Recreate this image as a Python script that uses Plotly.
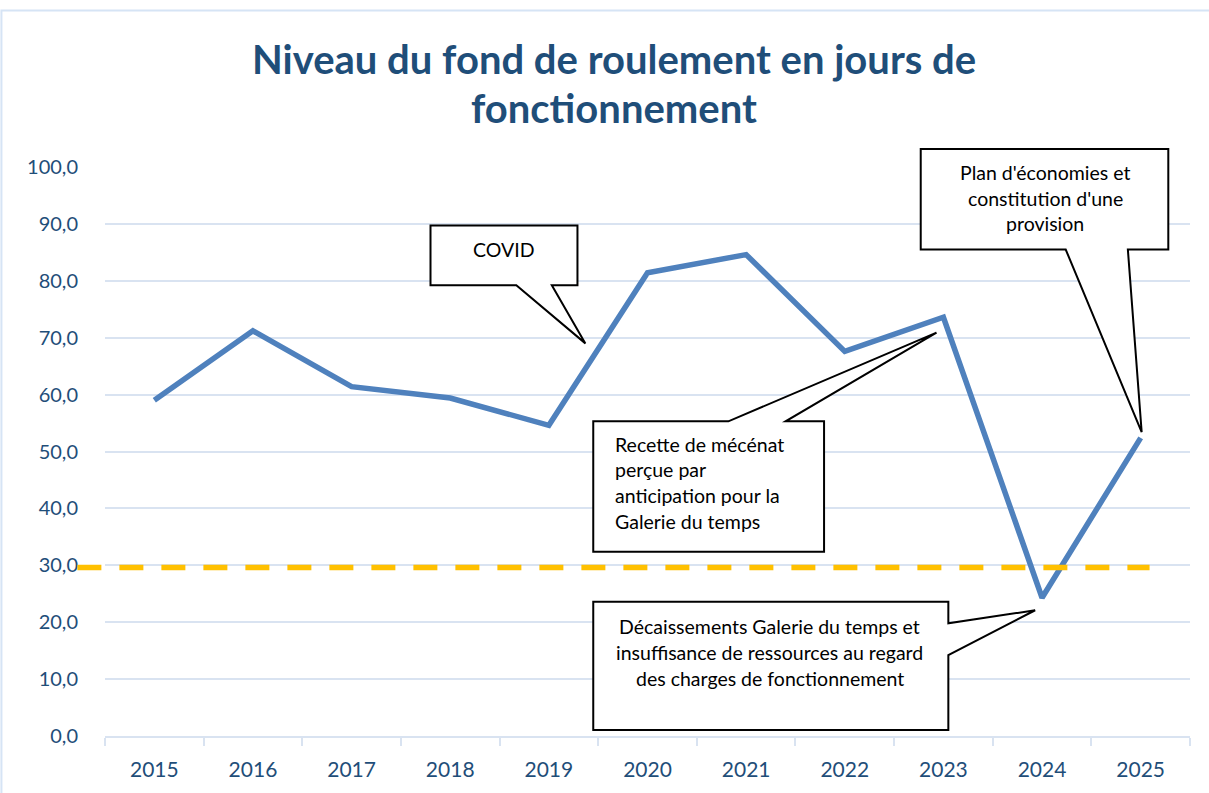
import plotly.graph_objects as go

# ---------------- data ----------------
years = [2015, 2016, 2017, 2018, 2019, 2020, 2021, 2022, 2023, 2024, 2025]
jours = [59.0, 71.2, 61.4, 59.4, 54.6, 81.4, 84.6, 67.6, 73.6, 24.3, 52.4]
seuil = 29.6
y_ticks = [0, 10, 20, 30, 40, 50, 60, 70, 80, 90, 100]

title_lines = ["Niveau du fond de roulement en jours de", "fonctionnement"]

# ---------------- style ----------------
FONT = "Lato"
DARK = "#1F4E79"
BLUE = "#4F81BD"
GRID = "#D9E3F1"
GOLD = "#FFC000"

XMIN, XMAX = years[0] - 0.5, years[-1] + 0.5
YMIN, YMAX = 0, 100


def PX(x):
    return (x - XMIN) / (XMAX - XMIN)


def PY(y):
    return (y - YMIN) / (YMAX - YMIN)


fig = go.Figure()
fig.add_trace(go.Scatter(
    x=years, y=jours, mode="lines",
    line=dict(color=BLUE, width=5.5),
    hoverinfo="x+y", showlegend=False,
))

shapes = []
annotations = []

# chart frame
shapes.append(dict(type="rect", xref="paper", yref="paper",
                   x0=PX(2013.45), x1=PX(2026.2), y0=PY(-11), y1=PY(127.5),
                   line=dict(color="#D6E4F5", width=2), fillcolor="rgba(0,0,0,0)",
                   layer="below"))

# threshold dashed line
shapes.append(dict(type="line", xref="paper", yref="paper",
                   x0=PX(2014.22), x1=PX(2025.09), y0=PY(seuil), y1=PY(seuil),
                   line=dict(color=GOLD, width=5.5, dash="24px,18px"), layer="above"))


def path(points):
    return "M " + " L ".join(f"{PX(x):.5f},{PY(y):.5f}" for x, y in points) + " Z"


# callouts (in data units, converted to paper coordinates)
x0, x1, yb, yt = 2017.80, 2019.29, 79.2, 89.7
covid = [(x0, yt), (x1, yt), (x1, yb), (2019.03, yb), (2019.37, 69.0), (2018.67, yb), (x0, yb)]

x0, x1, yb, yt = 2019.45, 2021.79, 32.4, 55.3
mecenat = [(x0, yb), (x0, yt), (2020.82, yt), (2022.93, 70.9), (2021.40, yt), (x1, yt), (x1, yb)]

x0, x1, yb, yt = 2019.45, 2023.05, 1.05, 23.6
decaiss = [(x0, yt), (x1, yt), (x1, 19.8), (2023.93, 22.1), (x1, 14.2), (x1, yb), (x0, yb)]

x0, x1, yb, yt = 2022.77, 2025.28, 85.5, 103.15
plan = [(x0, yt), (x1, yt), (x1, yb), (2024.87, yb), (2025.01, 53.4), (2024.24, yb), (x0, yb)]

for pts in (covid, mecenat, decaiss, plan):
    shapes.append(dict(type="path", xref="paper", yref="paper", path=path(pts),
                       line=dict(color="black", width=2), fillcolor="white", layer="above"))

TXT = dict(family=FONT, size=19.5, color="black")


def add_lines(lines, x, ys, align):
    for t, y in zip(lines, ys):
        annotations.append(dict(text=t, xref="paper", yref="paper", x=PX(x), y=PY(y),
                                xanchor=align, yanchor="middle", showarrow=False, font=TXT))


add_lines(["COVID"], 2018.54, [85.5], "center")
add_lines(["Recette de mécénat", "perçue par", "anticipation pour la", "Galerie du temps"],
          2019.65, [51.3, 46.75, 42.2, 37.65], "left")
add_lines(["Décaissements Galerie du temps et", "insuffisance de ressources au regard",
           "des charges de fonctionnement"], 2021.24, [19.25, 14.7, 10.15], "center")
add_lines(["Plan d'économies et", "constitution d'une", "provision"],
          2024.03, [98.95, 94.55, 90.0], "center")

# title
for t, y in zip(title_lines, [119.0, 110.4]):
    annotations.append(dict(text=f"<b>{t}</b>", xref="paper", yref="paper",
                            x=PX(2019.66), y=PY(y), xanchor="center", yanchor="middle",
                            showarrow=False, font=dict(family=FONT, size=40, color=DARK)))

fig.update_layout(
    width=1209, height=793,
    margin=dict(l=105, r=19, t=167, b=55),
    paper_bgcolor="white", plot_bgcolor="white",
    font=dict(family=FONT, color=DARK),
    shapes=shapes, annotations=annotations,
    showlegend=False,
    xaxis=dict(
        range=[XMIN, XMAX], tickmode="array", tickvals=years,
        ticktext=[str(y) for y in years], ticks="", showgrid=False, zeroline=False,
        showline=True, linecolor=GRID, linewidth=2,
        tickfont=dict(family=FONT, size=21, color=DARK), ticklabelstandoff=14,
        minor=dict(tickmode="array", tickvals=[y - 0.5 for y in years] + [years[-1] + 0.5],
                   ticks="outside", ticklen=8, tickcolor=GRID, tickwidth=2, showgrid=False),
    ),
    yaxis=dict(
        range=[YMIN, YMAX], tickmode="array", tickvals=y_ticks, tickformat=".1f",
        showgrid=True, gridcolor=GRID, gridwidth=2, zeroline=False, showline=False,
        ticks="", tickfont=dict(family=FONT, size=20, color=DARK), ticklabelstandoff=26,
    ),
    separators=",.",
)

fig.write_html("out.html", config={"displayModeBar": False},
               post_script="document.body.style.margin='0';")
